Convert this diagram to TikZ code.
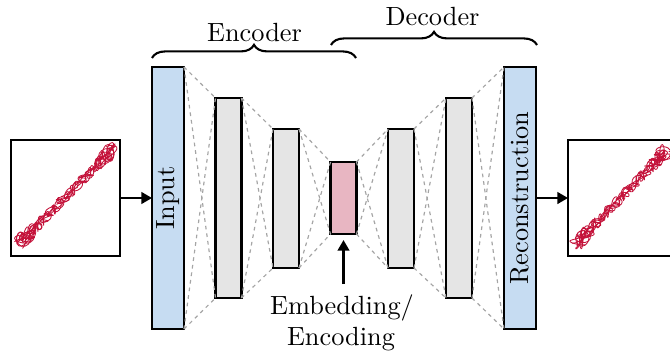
\documentclass[tikz,border=0pt]{standalone}
\usetikzlibrary{arrows.meta,decorations.pathreplacing}

% one drawing unit
\newcommand{\pxu}{0.38pt}

\definecolor{inblue}{RGB}{198,220,242}
\definecolor{hidgray}{RGB}{229,229,229}
\definecolor{embpink}{RGB}{232,182,194}
\definecolor{trajred}{RGB}{196,18,58}
\definecolor{linkgray}{RGB}{165,165,165}

% looping trajectory along a diagonal: start (#1,#2), end (#3,#4)
\newcommand{\drawtrajectory}[4]{%
  \foreach \k in {1,...,4}{
    \pgfmathsetmacro{\pa}{360*rnd}
    \pgfmathsetmacro{\pb}{360*rnd}
    \pgfmathsetmacro{\pc}{360*rnd}
    \pgfmathsetmacro{\fa}{9+6*rnd}
    \pgfmathsetmacro{\fb}{17+8*rnd}
    \pgfmathsetmacro{\fc}{14+8*rnd}
    \draw[traj] plot[smooth, samples=220, domain=0:1, variable=\t]
      ({#1+(#3-#1)*(0.55*\t+0.45*(0.5-0.5*cos(180*\t)))
         +(1+0.7*abs(cos(180*\t))^8)*(0.707*4*sin(\fc*360*\t+\pc)
         +0.707*(3*sin(\fa*360*\t+\pa)+1.8*sin(\fb*360*\t+\pb)))},
       {#2+(#4-#2)*(0.55*\t+0.45*(0.5-0.5*cos(180*\t)))
         +(1+0.7*abs(cos(180*\t))^8)*(-0.707*4*sin(\fc*360*\t+\pc)
         +0.707*(3*sin(\fa*360*\t+\pa)+1.8*sin(\fb*360*\t+\pb)))});
  }}

\begin{document}
\begin{tikzpicture}[x=\pxu, y=-\pxu,
  layer/.style={draw=black, line width=0.8pt, inner sep=0pt, outer sep=0pt},
  plotbox/.style={draw=black, line width=0.8pt, fill=white, inner sep=0pt, outer sep=0pt,
    minimum width={109*\pxu}, minimum height={116*\pxu}},
  link/.style={draw=linkgray, dash pattern=on 1.4pt off 1.5pt, line width=0.45pt},
  arr/.style={-{Triangle[length=4pt,width=4.4pt]}, line width=0.8pt},
  brc/.style={decorate, decoration={brace, amplitude=5pt}, line width=0.8pt},
  traj/.style={draw=trajred, line width=0.32pt, line join=round},
]
\useasboundingbox (0,0) rectangle (670,353);
\pgfmathsetseed{4217}

% layers of the network
\node[layer, fill=inblue, minimum width={32*\pxu}, minimum height={262*\pxu}] (inp) at (168,198) {};
\node[layer, fill=hidgray, minimum width={26*\pxu}, minimum height={200*\pxu}] (h1) at (228.5,198) {};
\node[layer, fill=hidgray, minimum width={26*\pxu}, minimum height={139*\pxu}] (h2) at (286,198.5) {};
\node[layer, fill=embpink, minimum width={26*\pxu}, minimum height={72*\pxu}] (emb) at (343.5,198) {};
\node[layer, fill=hidgray, minimum width={26*\pxu}, minimum height={139*\pxu}] (h3) at (401,198.5) {};
\node[layer, fill=hidgray, minimum width={26*\pxu}, minimum height={200*\pxu}] (h4) at (459,198) {};
\node[layer, fill=inblue, minimum width={32*\pxu}, minimum height={262*\pxu}] (rec) at (520,198) {};

\node[rotate=90] (inplbl) at (inp) {Input};
\node[rotate=90] (reclbl) at (rec) {Reconstruction};

% dashed links between neighbouring layers
\foreach \a/\b in {inp/h1,h1/h2,h2/emb,emb/h3,h3/h4,h4/rec}{
  \draw[link] (\a.north east) -- (\b.north west);
  \draw[link] (\a.south east) -- (\b.south west);
  \draw[link] (\a.north east) -- (\b.south west);
  \draw[link] (\a.south east) -- (\b.north west);
}

% input and reconstructed signals
\node[plotbox] (xin) at (65.5,198) {};
\node[plotbox] (xout) at (622.5,198) {};
\drawtrajectory{21}{242}{112}{150}
\drawtrajectory{578}{242}{665}{152}

\draw[arr] (xin) -- (inp);
\draw[arr] (rec) -- (xout);

% braces
\coordinate (encL) at (152,58);
\coordinate (encR) at (356,58);
\coordinate (decL) at (331,45);
\coordinate (decR) at (537,45);
\draw[brc] (encL) -- (encR);
\draw[brc] (decL) -- (decR);
\node[anchor=base] (enctxt) at (254.5,42) {Encoder};
\node[anchor=base] (dectxt) at (432.5,26) {Decoder};

% embedding label
\node[anchor=base, inner sep=0pt] (emblbl) at (342,314) {Embedding/};
\node[anchor=base, inner sep=0pt] (emblbl2) at (341,345) {Encoding};
\coordinate (embtail) at (343.5,284);
\draw[arr, shorten >=2.3pt] (embtail) -- (emb.south);
\end{tikzpicture}
\end{document}
